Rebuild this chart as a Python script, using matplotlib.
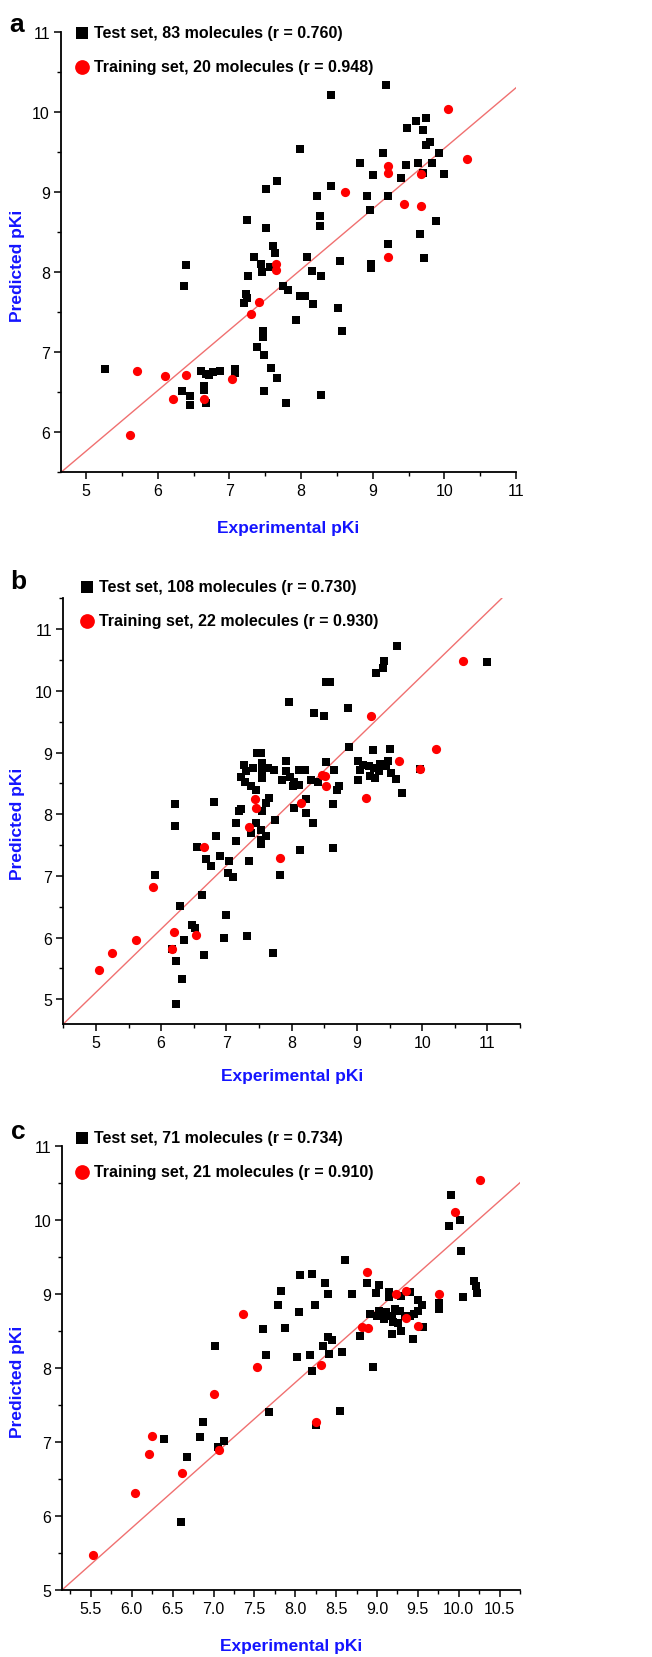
import matplotlib
matplotlib.use("Agg")
import matplotlib.pyplot as plt
from matplotlib.ticker import MultipleLocator, FormatStrFormatter

plt.rcParams['font.family'] = ['Liberation Sans Narrow', 'Liberation Sans', 'DejaVu Sans']

# ---------------- Panel a data ----------------
a_test_x = [9.19, 8.42, 9.48, 9.61, 9.75, 9.70, 9.80, 9.75, 7.99, 9.14, 9.92, 8.82, 9.46, 9.63, 9.83,
            9.01, 9.40, 9.70, 9.99, 7.51, 7.66, 8.42, 8.22, 8.92, 9.22, 8.96, 8.27, 8.27, 7.25, 7.51,
            9.88, 9.66, 7.61, 7.64, 9.22, 7.35, 8.09, 8.54, 9.72, 7.44, 8.97, 6.40, 7.45, 7.26, 7.57,
            8.15, 8.28, 8.98, 6.36, 7.23, 7.20, 7.75, 7.82, 7.99, 8.05, 8.16, 8.52, 7.93, 8.57, 7.47,
            7.47, 7.38, 7.48, 7.58, 7.67, 7.48, 7.79, 8.28, 5.27, 6.61, 6.68, 6.77, 6.87, 7.08, 7.08,
            6.34, 6.45, 6.45, 6.64, 6.68, 6.64, 6.72, 7.24]
a_test_y = [10.33, 10.21, 9.80, 9.89, 9.92, 9.77, 9.62, 9.58, 9.54, 9.48, 9.48, 9.36, 9.34, 9.36, 9.36,
            9.21, 9.17, 9.24, 9.22, 9.04, 9.14, 9.07, 8.95, 8.95, 8.95, 8.77, 8.70, 8.58, 8.65, 8.55,
            8.64, 8.47, 8.33, 8.24, 8.35, 8.19, 8.19, 8.14, 8.17, 8.10, 8.10, 8.09, 8.00, 7.95, 8.06,
            8.01, 7.95, 8.05, 7.82, 7.73, 7.61, 7.82, 7.77, 7.70, 7.70, 7.60, 7.55, 7.40, 7.27, 7.27,
            7.19, 7.07, 6.96, 6.80, 6.68, 6.51, 6.36, 6.46, 6.79, 6.77, 6.73, 6.75, 6.77, 6.79, 6.74,
            6.51, 6.45, 6.34, 6.53, 6.36, 6.58, 6.71, 7.67]
a_train_x = [5.61, 5.71, 6.10, 6.22, 6.40, 6.65, 7.04, 7.30, 7.42, 7.65, 7.65, 8.61, 9.21, 9.21,
             9.21, 9.43, 9.67, 9.67, 10.05, 10.31]
a_train_y = [5.96, 6.77, 6.70, 6.42, 6.72, 6.42, 6.66, 7.48, 7.63, 8.10, 8.02, 9.00, 9.32, 9.23,
             8.19, 8.85, 9.22, 8.83, 10.03, 9.41]
a_fit_x = [4.65, 11.0]
a_fit_y = [5.5, 10.3]

# ---------------- Panel b data ----------------
b_test_x = [9.61, 11.00, 9.42, 9.40, 9.29, 8.53, 8.59, 7.96, 8.34, 8.49, 8.86, 8.88, 9.25, 9.51,
            7.47, 7.53, 7.27, 7.22, 7.29, 7.37, 7.45, 7.55, 7.55, 7.63, 7.73, 7.55, 7.65, 7.61,
            7.92, 7.92, 7.98, 8.04, 8.12, 8.02, 8.20, 8.12, 8.53, 8.65, 8.73, 8.69, 8.41, 8.64,
            9.01, 9.10, 9.18, 9.26, 9.01, 9.28, 9.34, 9.44, 9.48, 9.52, 9.60, 9.69, 9.96, 9.05, 9.35,
            7.75, 8.04, 8.22, 8.22, 8.33, 7.22, 7.14, 7.15, 7.45, 7.53, 7.53, 7.53, 7.38, 6.84,
            6.81, 6.21, 6.21, 6.55, 6.69, 6.77, 6.90, 7.04, 7.02, 7.10, 7.35, 8.13, 8.64, 5.90,
            7.82, 7.20, 7.54,
            6.62, 6.29, 7.00, 6.48, 6.52, 6.35, 6.97, 7.32, 6.66, 7.71, 6.23, 6.32, 6.22, 6.16,
            7.40, 7.85, 8.30, 7.30, 9.20, 7.60]
b_test_y = [10.73, 10.46, 10.49, 10.37, 10.29, 10.14, 10.14, 9.82, 9.64, 9.60, 9.72, 9.09, 9.04, 9.05,
            8.99, 8.99, 8.80, 8.61, 8.53, 8.45, 8.40, 8.83, 8.70, 8.75, 8.71, 8.59, 8.27, 8.18,
            8.86, 8.70, 8.61, 8.53, 8.48, 8.45, 8.72, 8.72, 8.84, 8.71, 8.45, 8.39, 8.53, 8.16,
            8.86, 8.80, 8.78, 8.75, 8.56, 8.59, 8.70, 8.78, 8.86, 8.67, 8.57, 8.35, 8.74, 8.72, 8.82,
            7.91, 8.10, 8.24, 8.02, 7.86, 8.08, 7.86, 7.56, 7.86, 7.75, 7.59, 7.51, 7.70, 7.64,
            8.20, 8.17, 7.81, 7.47, 7.27, 7.16, 7.32, 7.24, 7.05, 6.99, 7.24, 7.42, 7.46, 7.02,
            7.02, 8.05, 8.05,
            6.69, 6.52, 6.36, 6.20, 6.16, 5.96, 6.00, 6.02, 5.72, 5.75, 5.62, 5.33, 4.92, 5.82,
            8.75, 8.55, 8.55, 8.70, 8.62, 7.65]
b_train_x = [5.05, 5.24, 5.61, 5.87, 6.19, 6.17, 6.54, 6.66, 7.35, 7.82, 7.44, 7.46, 8.15, 8.46,
             8.51, 8.53, 9.22, 9.14, 9.64, 9.96, 10.22, 10.63]
b_train_y = [5.47, 5.75, 5.96, 6.82, 6.09, 5.82, 6.04, 7.47, 7.80, 7.29, 8.24, 8.10, 8.18, 8.64,
             8.62, 8.45, 9.59, 8.26, 8.86, 8.74, 9.06, 10.49]
b_fit_x = [4.5, 11.22]
b_fit_y = [4.6, 11.5]

# ---------------- Panel c data ----------------
c_test_x = [9.90, 9.88, 10.01, 10.03, 8.61, 8.06, 8.21, 8.37, 8.40, 7.83, 8.69, 8.88, 9.02, 8.99,
            9.15, 9.15, 9.30, 9.40, 9.50, 9.50, 9.44, 9.56, 9.18, 9.30, 9.76, 9.76, 10.05, 10.19,
            10.21, 10.23, 7.79, 8.24, 8.05, 7.60, 7.88, 8.79, 8.40, 8.34, 8.41, 8.57, 7.02, 7.64,
            8.02, 8.18, 8.95, 8.21, 9.03, 9.11, 9.18, 9.28, 9.34, 9.41, 9.09, 9.26, 6.40, 6.68,
            6.83, 6.87, 7.06, 7.13, 7.68, 8.55, 8.25, 6.60, 9.20, 9.45, 9.00, 9.22, 8.45, 9.55, 8.92]
c_test_y = [10.33, 9.92, 10.00, 9.58, 9.46, 9.25, 9.27, 9.15, 9.00, 9.04, 9.00, 9.15, 9.12, 9.01,
            9.02, 8.95, 8.97, 9.02, 8.91, 8.77, 8.39, 8.55, 8.45, 8.50, 8.88, 8.79, 8.96, 9.17,
            9.10, 9.01, 8.85, 8.85, 8.75, 8.52, 8.54, 8.43, 8.41, 8.30, 8.18, 8.21, 8.30, 8.17,
            8.15, 8.17, 8.01, 7.96, 8.77, 8.75, 8.70, 8.77, 8.70, 8.70, 8.66, 8.61, 7.04, 6.79,
            7.06, 7.26, 6.93, 7.01, 7.40, 7.42, 7.22, 5.91, 8.62, 8.72, 8.70, 8.80, 8.37, 8.85, 8.72]
c_train_x = [10.26, 9.95, 8.88, 9.23, 9.36, 9.76, 9.36, 9.50, 8.82, 8.89, 7.36, 7.53, 8.31, 7.00,
             8.25, 6.25, 6.21, 7.07, 6.62, 6.04, 5.52]
c_train_y = [10.54, 10.10, 9.30, 9.00, 9.04, 9.00, 8.67, 8.57, 8.55, 8.53, 8.72, 8.01, 8.03, 7.65,
             7.26, 7.08, 6.84, 6.89, 6.58, 6.31, 5.47]
c_fit_x = [5.15, 10.75]
c_fit_y = [5.0, 10.5]

W, H = 652, 1658
fig = plt.figure(figsize=(W / 100, H / 100), dpi=100)

BLUE = '#1414ff'
LINE_RED = '#f07070'

panels = [
    dict(letter='a', box=(61, 32.7, 516, 473.3), xlim=(4.65, 11.0), ylim=(5.5, 11.0),
         xmaj=1, xmin=0.5, ymaj=1, ymin=0.5, fmt='%d',
         test=(a_test_x, a_test_y), train=(a_train_x, a_train_y), fit=(a_fit_x, a_fit_y),
         labels=('Test set, 83 molecules (r = 0.760)', 'Training set, 20 molecules (r = 0.948)'),
         leg=(76, 26), letter_pos=(17, 25), xlab_y=529, ylab_y=266),
    dict(letter='b', box=(63.3, 599.3, 520, 1025), xlim=(4.5, 11.5), ylim=(4.6, 11.5),
         xmaj=1, xmin=0.5, ymaj=1, ymin=0.5, fmt='%d',
         test=(b_test_x, b_test_y), train=(b_train_x, b_train_y), fit=(b_fit_x, b_fit_y),
         labels=('Test set, 108 molecules (r = 0.730)', 'Training set, 22 molecules (r = 0.930)'),
         leg=(81, 580), letter_pos=(18, 582), xlab_y=1077, ylab_y=824),
    dict(letter='c', box=(62.3, 1146.7, 520, 1590.7), xlim=(5.15, 10.75), ylim=(5.0, 11.0),
         xmaj=0.5, xmin=0.25, ymaj=1, ymin=0.5, fmt='%.1f',
         test=(c_test_x, c_test_y), train=(c_train_x, c_train_y), fit=(c_fit_x, c_fit_y),
         labels=('Test set, 71 molecules (r = 0.734)', 'Training set, 21 molecules (r = 0.910)'),
         leg=(76, 1131), letter_pos=(18, 1132), xlab_y=1647, ylab_y=1382),
]

for p in panels:
    l, t, r, b = p['box']
    ax = fig.add_axes([l / W, 1 - b / H, (r - l) / W, (b - t) / H])
    ax.set_xlim(*p['xlim'])
    ax.set_ylim(*p['ylim'])
    for s in ('top', 'right'):
        ax.spines[s].set_visible(False)
    for s in ('left', 'bottom'):
        ax.spines[s].set_linewidth(1.3)
    ax.xaxis.set_major_locator(MultipleLocator(p['xmaj']))
    ax.xaxis.set_minor_locator(MultipleLocator(p['xmin']))
    ax.yaxis.set_major_locator(MultipleLocator(p['ymaj']))
    ax.yaxis.set_minor_locator(MultipleLocator(p['ymin']))
    ax.xaxis.set_major_formatter(FormatStrFormatter(p['fmt']))
    ax.yaxis.set_major_formatter(FormatStrFormatter('%d'))
    ax.tick_params(which='major', direction='out', length=5, width=1.1, labelsize=11.5, pad=3)
    ax.tick_params(which='minor', direction='out', length=3, width=1.0)
    ax.plot(p['fit'][0], p['fit'][1], color=LINE_RED, lw=1.0, zorder=1)
    h1 = ax.scatter(p['test'][0], p['test'][1], marker='s', s=34, color='black', linewidths=0,
                    zorder=2, label=p['labels'][0])
    h2 = ax.scatter(p['train'][0], p['train'][1], marker='o', s=44, color='#ff0000', linewidths=0,
                    zorder=3, label=p['labels'][1])
    lx, ly = p['leg']
    ax.legend(handles=[h1, h2], loc='upper left', bbox_to_anchor=(lx / W, 1 - ly / H),
              bbox_transform=fig.transFigure, frameon=False, borderpad=0, borderaxespad=0,
              handlelength=0.8, handletextpad=0.35, labelspacing=1.2, markerscale=1.6,
              prop=dict(weight='bold', size=11.5))
    ax.set_xlabel('Experimental pKi', color=BLUE, fontweight='bold', fontsize=12.5)
    ax.xaxis.set_label_coords(0.5, 1 - (p['xlab_y'] - t) / (b - t), transform=ax.transAxes)
    ax.xaxis.label.set_va('center')
    ax.set_ylabel('Predicted pKi', color=BLUE, fontweight='bold', fontsize=12.5)
    ax.yaxis.set_label_coords((18 - l) / (r - l), 1 - (p['ylab_y'] - t) / (b - t),
                              transform=ax.transAxes)
    ax.yaxis.label.set_va('center')
    fig.text(p['letter_pos'][0] / W, 1 - p['letter_pos'][1] / H, p['letter'],
             fontsize=19, fontweight='bold', ha='center', va='center')

fig.savefig('out.png', dpi=100)
